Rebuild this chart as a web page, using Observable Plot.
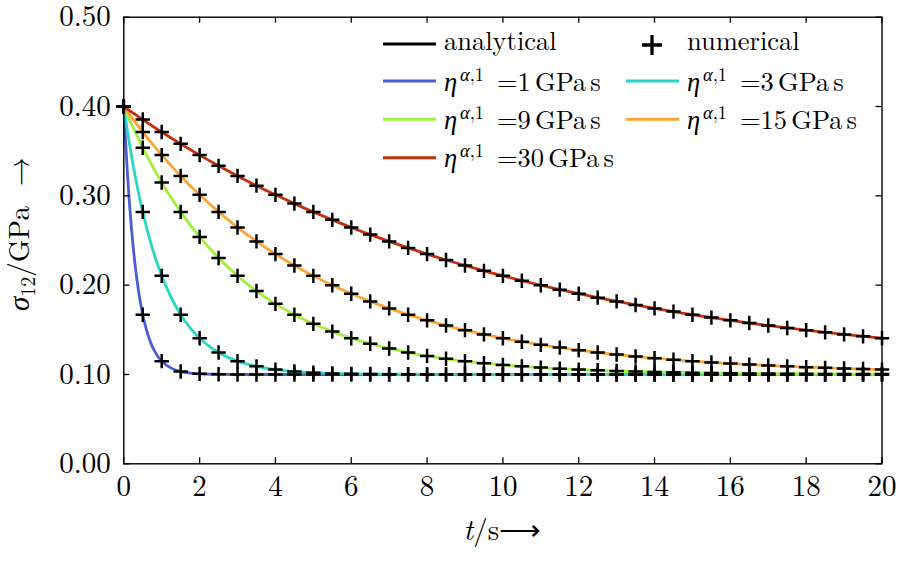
<!DOCTYPE html>
<html><head><meta charset="utf-8">
<script src="https://cdn.jsdelivr.net/npm/d3@7"></script>
<script src="https://cdn.jsdelivr.net/npm/@observablehq/plot@0.6"></script>
<style>
body{margin:0;background:#fff;}
</style>
</head><body><div id="chart"></div>
<script>
// time grid of the numerical results (s)
const numT = [0,0.5,1,1.5,2,2.5,3,3.5,4,4.5,5,5.5,6,6.5,7,7.5,8,8.5,9,9.5,10,10.5,11,11.5,12,12.5,13,13.5,14,14.5,15,15.5,16,16.5,17,17.5,18,18.5,19,19.5,20];
// sigma_12 (GPa) per viscosity eta (GPa s)
const num1 = [0.4000,0.1669,0.1149,0.1033,0.1007,0.1002,
  0.1000,0.1000,0.1000,0.1000,0.1000,0.1000,0.1000,
  0.1000,0.1000,0.1000,0.1000,0.1000,0.1000,0.1000,
  0.1000,0.1000,0.1000,0.1000,0.1000,0.1000,0.1000,
  0.1000,0.1000,0.1000,0.1000,0.1000,0.1000,0.1000,
  0.1000,0.1000,0.1000,0.1000,0.1000,0.1000,0.1000];
const num3 = [0.4000,0.2820,0.2104,0.1669,0.1406,0.1246,0.1149,0.1091,0.1055,0.1033,0.1020,0.1012,0.1007,0.1005,0.1003,0.1002,0.1001,0.1001,
  0.1000,0.1000,0.1000,0.1000,0.1000,0.1000,0.1000,0.1000,0.1000,0.1000,0.1000,0.1000,
  0.1000,0.1000,0.1000,0.1000,0.1000,0.1000,0.1000,0.1000,0.1000,0.1000,0.1000];
const num9 = [0.4000,0.3539,0.3150,0.2820,0.2540,0.2304,0.2104,0.1934,0.1791,0.1669,0.1567,0.1480,0.1406,0.1344,0.1291,0.1246,0.1208,0.1176,0.1149,0.1126,0.1107,0.1091,0.1077,0.1065,0.1055,0.1047,0.1039,0.1033,0.1028,0.1024,0.1020,0.1017,0.1015,0.1012,0.1010,0.1009,0.1007,0.1006,0.1005,0.1004,0.1004];
const num15 = [0.4000,0.3715,0.3456,0.3223,0.3011,0.2820,0.2646,0.2490,0.2348,0.2220,0.2104,0.1999,0.1904,0.1818,0.1740,0.1669,0.1606,0.1548,0.1496,0.1449,0.1406,0.1367,0.1332,0.1301,0.1272,0.1246,0.1223,0.1202,0.1182,0.1165,0.1149,0.1135,0.1122,0.1111,0.1100,0.1091,0.1082,0.1074,0.1067,0.1061,0.1055];
const num30 = [0.4000,0.3854,0.3715,0.3582,0.3456,0.3336,0.3223,0.3114,0.3011,0.2913,0.2820,0.2731,0.2646,0.2566,0.2490,0.2417,0.2348,0.2282,0.2220,0.2160,0.2104,0.2050,0.1999,0.1950,0.1904,0.1860,0.1818,0.1778,0.1740,0.1704,0.1669,0.1637,0.1606,0.1576,0.1548,0.1521,0.1496,0.1472,0.1449,0.1427,0.1406];
// extra readings of the analytical curves at early times
const extraT = [0.05,0.1,0.15,0.2,0.3,0.4,0.6,0.7,0.8,0.9,1.25,1.75];
const ext1 = [0.3582,0.3223,0.2913,0.2646,0.2220,0.1904,0.1496,0.1367,0.1272,0.1202,0.1071,0.1016];
const ext3 = [0.3854,0.3715,0.3582,0.3456,0.3223,0.3011,0.2646,0.2490,0.2348,0.2220,0.1860,0.1521];
const ext9 = [0.3950,0.3902,0.3854,0.3807,0.3715,0.3626,0.3456,0.3376,0.3298,0.3223,0.2978,0.2674];
const ext15 = [0.3970,0.3941,0.3911,0.3882,0.3825,0.3769,0.3661,0.3608,0.3556,0.3506,0.3336,0.3114];
const ext30 = [0.3985,0.3970,0.3955,0.3941,0.3911,0.3882,0.3825,0.3797,0.3769,0.3742,0.3648,0.3518];

const etas = [1,3,9,15,30];
const colors = ["#4a5cd6","#27d7c6","#a2f03c","#fda433","#c4300e"];
const xTicks = [0,2,4,6,8,10,12,14,16,18,20];
const yTicks = [0,0.1,0.2,0.3,0.4,0.5];

const seriesNum = [num1,num3,num9,num15,num30];
const seriesExt = [ext1,ext3,ext9,ext15,ext30];
const numRows = [], lineRows = [];
etas.forEach((eta,i)=>{
  numT.forEach((t,j)=>{ numRows.push({t, v: seriesNum[i][j], eta}); lineRows.push({t, v: seriesNum[i][j], eta}); });
  extraT.forEach((t,j)=> lineRows.push({t, v: seriesExt[i][j], eta}));
});
lineRows.sort((a,b)=> etas.indexOf(a.eta)-etas.indexOf(b.eta) || a.t-b.t);

const W=898, H=570, ML=123.3, MR=16.5, MT=16.7, MB=106.7, TK=6;
const pw = W-ML-MR, ph = H-MT-MB;
const FONT = "'Latin Modern Roman', 'Liberation Serif', serif";

const plot = Plot.plot({
  width: W, height: H, marginLeft: ML, marginRight: MR, marginTop: MT, marginBottom: MB,
  style: {fontFamily: FONT, fontSize: "29px", background: "#fff", color: "#000"},
  x: {domain: [0,20]},
  y: {domain: [0,0.5]},
  color: {type: "ordinal", domain: etas, range: colors},
  marks: [
    Plot.line(lineRows, {x:"t", y:"v", z:"eta", stroke:"eta", strokeWidth:2.8, curve:"monotone-x"}),
    Plot.dot(numRows, {x:"t", y:"v", symbol:"plus", r:4.7, fill:"none", stroke:"#000", strokeWidth:2.5}),
    Plot.tickX(xTicks, {x:d=>d, insetTop: ph-TK, stroke:"#000", strokeWidth:1.3}),
    Plot.tickX(xTicks, {x:d=>d, insetBottom: ph-TK, stroke:"#000", strokeWidth:1.3}),
    Plot.tickY(yTicks, {y:d=>d, insetRight: pw-TK, stroke:"#000", strokeWidth:1.3}),
    Plot.tickY(yTicks, {y:d=>d, insetLeft: pw-TK, stroke:"#000", strokeWidth:1.3}),
    Plot.frame({stroke:"#000", strokeWidth:1.4}),
    Plot.axisX(xTicks, {tickSize:0, tickPadding:12, label:null, fontSize:29}),
    Plot.axisY(yTicks, {tickSize:0, tickPadding:13, label:null, fontSize:29, tickFormat:d=>d.toFixed(2)})
  ]
});
document.getElementById("chart").appendChild(plot);

const svg = d3.select(plot);
// axis labels
const yl = svg.append("text").attr("transform","translate(29,234) rotate(-90)")
  .attr("text-anchor","middle").attr("font-size",29).attr("fill","#000");
yl.append("tspan").attr("font-style","italic").text("σ");
yl.append("tspan").attr("font-size",20).attr("dy",6).text("12");
yl.append("tspan").attr("dy",-6).text("/GPa");
yl.append("tspan").attr("dx",20).text("→");
const xl = svg.append("text").attr("x", ML + pw/2).attr("y",540)
  .attr("text-anchor","middle").attr("font-size",29).attr("fill","#000");
xl.append("tspan").attr("font-style","italic").text("t");
xl.append("tspan").text("/s⟶");

// legend
const leg = svg.append("g").attr("font-size",26.5)
  .attr("fill","#000").attr("text-anchor","start");
function handle(x, y, color){
  leg.append("line").attr("x1",x).attr("x2",x+53).attr("y1",y).attr("y2",y)
    .attr("stroke",color).attr("stroke-width",3);
}
function etaLabel(x, yb, eta){
  const t = leg.append("text").attr("x",x).attr("y",yb);
  t.append("tspan").attr("font-style","italic").text("η");
  t.append("tspan").attr("x",x+16).attr("font-size",18.5).attr("dy",-10).attr("font-style","italic").text("α");
  t.append("tspan").attr("font-size",18.5).text(",1");
  t.append("tspan").attr("x",x+53).attr("dy",10).text("=" + eta);
  t.append("tspan").attr("dx",4).text("GPa");
  t.append("tspan").attr("dx",4).text("s");
}
handle(383,44,"#000");
leg.append("text").attr("x",444).attr("y",50).text("analytical");
leg.append("path").attr("d","M642,45H662M652,35V55").attr("stroke","#000").attr("stroke-width",3.3);
leg.append("text").attr("x",687).attr("y",50).text("numerical");
const legPos = [[383,81],[626,81],[383,119.3],[626,119.3],[383,157.7]];
etas.forEach((eta,i)=>{
  const [x,y] = legPos[i];
  handle(x,y,colors[i]);
  etaLabel(x+61, y+9.5, eta);
});
// force the serif family on every text (inline, highest priority)
svg.selectAll("text").style("font-family", FONT, "important");
</script>
</body></html>
